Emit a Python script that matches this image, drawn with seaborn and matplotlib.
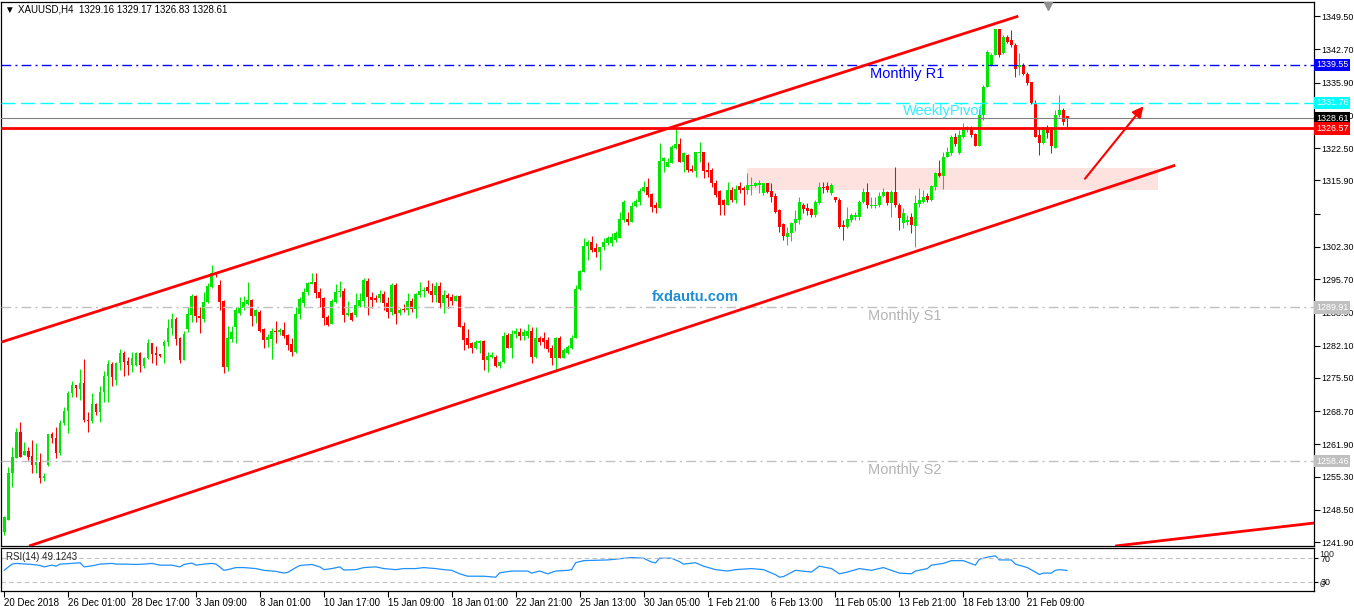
import numpy as np
import pandas as pd
import seaborn as sns
import matplotlib.pyplot as plt
import matplotlib.transforms as mtransforms
from matplotlib.patches import Rectangle

sns.set_theme(style="white")
plt.rcParams['font.family'] = ['Liberation Sans', 'DejaVu Sans']

# XAUUSD H4 candles
opens = [1244.0, 1246.4, 1256.0, 1259.1, 1264.4, 1259.7, 1260.5, 1259.5, 1257.7, 1258.3,
         1255.0, 1257.7, 1264.0, 1263.2, 1260.1, 1266.3, 1268.7, 1272.4, 1274.0, 1273.2,
         1274.4, 1266.9, 1266.7, 1270.2, 1268.5, 1272.6, 1275.9, 1278.3, 1275.1, 1278.5,
         1280.6, 1278.9, 1278.1, 1278.1, 1280.6, 1277.9, 1279.6, 1282.6, 1280.6, 1280.4,
         1282.0, 1282.8, 1285.7, 1287.5, 1283.6, 1279.2, 1285.5, 1288.4, 1292.2, 1288.2,
         1287.5, 1291.0, 1294.1, 1296.9, 1294.5, 1291.2, 1277.7, 1283.4, 1285.9, 1288.8,
         1289.8, 1290.6, 1291.4, 1288.2, 1289.0, 1285.5, 1283.2, 1283.4, 1285.1, 1284.9,
         1285.3, 1284.3, 1282.4, 1280.8, 1288.6, 1290.8, 1293.1, 1294.7, 1295.1, 1293.1,
         1291.8, 1288.0, 1286.5, 1291.0, 1293.1, 1293.3, 1288.4, 1288.8, 1288.4, 1290.2,
         1291.2, 1295.3, 1292.0, 1291.8, 1291.8, 1292.6, 1290.8, 1289.0, 1294.5, 1288.8,
         1289.6, 1289.4, 1291.2, 1289.6, 1292.4, 1293.3, 1294.1, 1293.3, 1292.4, 1294.3,
         1290.8, 1292.4, 1292.0, 1291.2, 1292.2, 1286.1, 1283.6, 1282.6, 1281.6, 1282.6,
         1283.0, 1279.2, 1279.8, 1279.8, 1277.9, 1278.7, 1284.3, 1281.6, 1284.5, 1284.9,
         1284.1, 1284.1, 1285.1, 1279.8, 1283.6, 1283.6, 1283.2, 1281.6, 1279.6, 1283.6,
         1279.6, 1280.6, 1281.6, 1283.6, 1293.7, 1297.1, 1302.4, 1303.3, 1302.0, 1301.2,
         1302.3, 1303.1, 1303.1, 1303.7, 1304.1, 1307.8, 1308.0, 1307.4, 1310.6, 1311.5,
         1313.7, 1314.5, 1313.1, 1310.8, 1310.2, 1319.8, 1318.6, 1319.4, 1322.5, 1323.3,
         1319.6, 1321.0, 1318.2, 1317.8, 1321.5, 1321.7, 1318.0, 1318.0, 1315.3, 1313.7,
         1311.9, 1310.8, 1313.9, 1311.9, 1314.7, 1314.3, 1313.9, 1314.7, 1314.7, 1314.9,
         1313.3, 1315.3, 1313.7, 1312.7, 1309.8, 1307.0, 1304.3, 1305.1, 1307.2, 1307.8,
         1310.8, 1310.2, 1310.0, 1308.8, 1311.3, 1314.5, 1314.7, 1313.3, 1312.5, 1311.9,
         1306.8, 1306.3, 1307.8, 1308.4, 1308.4, 1311.5, 1313.5, 1310.6, 1310.6, 1310.8,
         1312.7, 1313.5, 1311.3, 1313.5, 1310.8, 1307.2, 1307.4, 1308.4, 1306.6, 1311.1,
         1311.5, 1312.7, 1311.9, 1314.5, 1317.4, 1316.8, 1320.7, 1321.5, 1324.8, 1321.5,
         1324.8, 1326.2, 1326.6, 1325.4, 1323.0, 1329.3, 1335.0, 1339.5, 1341.5, 1346.8,
         1342.0, 1345.2, 1344.6, 1343.6, 1339.1, 1339.5, 1337.6, 1336.0, 1331.7, 1325.2,
         1323.5, 1326.6, 1326.6, 1322.5, 1329.3, 1330.3, 1329.16]
highs = [1247.3, 1257.3, 1261.4, 1265.2, 1266.5, 1262.4, 1261.4, 1262.8, 1262.2, 1260.1,
         1256.0, 1264.0, 1264.4, 1265.4, 1266.9, 1269.5, 1272.8, 1274.9, 1274.0, 1277.3,
         1279.4, 1268.5, 1272.4, 1270.4, 1273.8, 1276.9, 1279.2, 1278.7, 1278.7, 1281.4,
         1281.0, 1279.8, 1280.8, 1280.8, 1280.8, 1279.8, 1283.4, 1282.6, 1282.0, 1280.4,
         1283.2, 1287.5, 1288.8, 1287.9, 1283.8, 1285.1, 1290.0, 1292.6, 1292.4, 1290.0,
         1293.1, 1294.9, 1298.6, 1297.1, 1295.5, 1291.4, 1286.1, 1286.1, 1290.0, 1292.0,
         1292.2, 1295.1, 1291.6, 1289.6, 1289.4, 1285.7, 1284.5, 1285.7, 1287.1, 1285.7,
         1286.9, 1284.5, 1283.6, 1290.0, 1292.0, 1293.9, 1295.1, 1296.9, 1296.9, 1293.9,
         1292.0, 1288.4, 1291.6, 1294.7, 1295.3, 1293.9, 1291.2, 1289.0, 1292.9, 1292.9,
         1295.9, 1295.9, 1293.1, 1292.4, 1293.5, 1293.3, 1292.0, 1294.9, 1294.9, 1289.8,
         1290.6, 1292.9, 1291.8, 1292.9, 1295.1, 1294.1, 1295.5, 1294.9, 1295.1, 1295.1,
         1293.5, 1292.9, 1292.6, 1292.4, 1292.4, 1286.9, 1285.5, 1282.8, 1283.2, 1283.2,
         1283.2, 1280.8, 1280.8, 1280.2, 1278.9, 1284.9, 1284.7, 1285.3, 1285.7, 1285.7,
         1285.5, 1286.5, 1285.9, 1285.9, 1284.1, 1284.9, 1283.8, 1282.2, 1283.8, 1284.1,
         1281.6, 1282.2, 1284.3, 1294.5, 1297.6, 1304.1, 1303.7, 1304.5, 1303.1, 1302.3,
         1304.1, 1304.5, 1305.1, 1305.5, 1309.4, 1311.9, 1309.4, 1311.5, 1312.1, 1314.3,
         1315.8, 1316.4, 1313.3, 1311.5, 1323.5, 1320.7, 1320.5, 1323.1, 1326.4, 1324.6,
         1321.7, 1321.3, 1319.0, 1321.7, 1323.7, 1321.7, 1319.6, 1318.4, 1316.0, 1313.9,
         1312.1, 1315.5, 1314.5, 1314.9, 1315.5, 1314.7, 1317.4, 1316.6, 1315.5, 1316.0,
         1315.3, 1315.3, 1315.3, 1313.3, 1310.0, 1307.2, 1306.3, 1307.4, 1309.8, 1312.5,
         1311.3, 1311.3, 1310.2, 1311.9, 1315.5, 1315.5, 1315.5, 1315.3, 1312.5, 1312.3,
         1307.8, 1310.4, 1309.2, 1309.4, 1311.9, 1314.3, 1315.3, 1312.5, 1312.5, 1313.5,
         1314.3, 1313.7, 1313.9, 1318.6, 1311.3, 1310.2, 1308.8, 1309.2, 1312.9, 1314.3,
         1313.9, 1313.3, 1314.9, 1317.6, 1320.1, 1321.7, 1322.7, 1325.2, 1325.6, 1326.2,
         1327.6, 1327.0, 1327.0, 1325.6, 1330.5, 1335.4, 1342.5, 1342.0, 1346.8, 1346.8,
         1345.6, 1345.6, 1346.6, 1344.0, 1342.0, 1339.9, 1338.0, 1336.0, 1332.3, 1326.8,
         1326.8, 1327.2, 1326.8, 1330.3, 1333.3, 1330.7, 1329.17]
lows = [1243.4, 1246.4, 1253.2, 1259.1, 1259.3, 1259.7, 1258.7, 1256.0, 1256.0, 1254.0,
        1254.4, 1257.5, 1262.2, 1259.1, 1259.7, 1265.9, 1264.2, 1271.6, 1271.6, 1271.0,
        1266.5, 1264.4, 1266.3, 1267.9, 1266.5, 1270.6, 1270.6, 1273.8, 1274.0, 1277.1,
        1275.9, 1276.1, 1276.7, 1278.0, 1276.7, 1277.5, 1279.4, 1278.5, 1278.1, 1279.8,
        1278.5, 1282.0, 1284.3, 1282.2, 1278.5, 1279.2, 1284.9, 1286.9, 1286.9, 1284.7,
        1286.9, 1290.8, 1293.9, 1296.1, 1289.4, 1276.5, 1276.9, 1282.8, 1282.6, 1288.4,
        1289.4, 1290.4, 1286.1, 1286.7, 1284.9, 1281.6, 1281.8, 1279.4, 1282.6, 1284.3,
        1283.6, 1281.2, 1280.0, 1280.6, 1287.5, 1290.0, 1292.4, 1294.7, 1291.8, 1290.0,
        1286.3, 1286.1, 1286.5, 1290.8, 1292.0, 1286.9, 1288.2, 1287.1, 1288.0, 1290.0,
        1290.0, 1288.4, 1289.8, 1291.0, 1291.0, 1289.4, 1287.8, 1288.4, 1286.5, 1288.4,
        1289.0, 1288.4, 1289.0, 1287.8, 1292.0, 1292.0, 1292.9, 1291.0, 1291.0, 1289.8,
        1288.8, 1289.8, 1290.4, 1291.2, 1285.9, 1281.2, 1281.6, 1280.6, 1281.4, 1280.6,
        1277.1, 1276.7, 1279.6, 1277.7, 1277.5, 1278.5, 1281.6, 1279.6, 1283.6, 1283.2,
        1283.2, 1283.6, 1278.5, 1279.6, 1282.2, 1281.6, 1280.8, 1278.1, 1277.1, 1279.6,
        1279.6, 1280.4, 1281.4, 1283.6, 1293.5, 1297.1, 1299.6, 1301.2, 1300.2, 1297.6,
        1301.6, 1302.7, 1302.5, 1303.3, 1304.1, 1307.4, 1306.8, 1307.4, 1310.4, 1310.8,
        1313.5, 1312.5, 1309.4, 1309.2, 1310.2, 1317.6, 1318.6, 1319.4, 1322.3, 1319.6,
        1317.6, 1317.6, 1317.6, 1316.6, 1319.6, 1316.4, 1316.6, 1314.5, 1312.5, 1308.8,
        1308.8, 1310.8, 1311.5, 1311.3, 1313.3, 1310.8, 1313.1, 1312.9, 1314.5, 1313.3,
        1312.9, 1313.3, 1311.5, 1309.2, 1305.3, 1303.7, 1302.7, 1303.5, 1305.5, 1307.0,
        1309.2, 1308.8, 1308.4, 1308.4, 1311.1, 1313.3, 1313.5, 1312.9, 1311.5, 1306.1,
        1303.7, 1306.1, 1307.4, 1307.8, 1307.8, 1311.3, 1310.2, 1310.2, 1310.2, 1310.4,
        1312.5, 1310.8, 1308.4, 1310.4, 1305.7, 1306.1, 1306.8, 1305.1, 1302.3, 1310.4,
        1311.3, 1311.5, 1311.7, 1313.9, 1316.6, 1314.1, 1320.7, 1321.1, 1322.9, 1321.3,
        1324.6, 1325.8, 1324.8, 1323.0, 1323.0, 1328.2, 1335.0, 1339.3, 1341.5, 1341.1,
        1341.7, 1344.0, 1343.2, 1337.0, 1337.4, 1337.4, 1335.4, 1331.5, 1324.8, 1321.1,
        1323.3, 1324.6, 1321.5, 1322.5, 1328.9, 1327.2, 1326.83]
closes = [1247.0, 1256.0, 1259.3, 1264.4, 1259.3, 1260.5, 1259.3, 1257.7, 1258.3, 1255.0,
          1255.4, 1264.0, 1263.2, 1260.1, 1266.3, 1268.7, 1272.4, 1274.0, 1273.4, 1274.4,
          1266.9, 1266.7, 1270.2, 1268.5, 1272.6, 1275.9, 1278.3, 1275.7, 1278.5, 1280.6,
          1278.7, 1278.1, 1279.6, 1280.6, 1278.1, 1279.6, 1282.6, 1280.4, 1280.2, 1280.0,
          1282.8, 1285.7, 1287.5, 1283.4, 1279.2, 1284.5, 1288.6, 1292.2, 1288.2, 1287.8,
          1291.0, 1294.3, 1296.9, 1296.5, 1291.0, 1277.7, 1283.6, 1284.9, 1289.4, 1289.8,
          1291.0, 1291.4, 1288.2, 1289.4, 1285.1, 1283.2, 1283.8, 1285.1, 1284.9, 1285.3,
          1284.1, 1282.2, 1280.8, 1288.6, 1291.6, 1293.1, 1294.9, 1295.1, 1292.9, 1291.8,
          1287.8, 1286.3, 1291.2, 1293.1, 1293.3, 1288.4, 1288.8, 1287.3, 1290.4, 1291.4,
          1295.5, 1292.0, 1291.4, 1291.4, 1292.6, 1290.8, 1289.0, 1294.5, 1288.6, 1289.4,
          1289.4, 1291.2, 1289.6, 1292.6, 1293.3, 1293.5, 1293.3, 1292.4, 1294.3, 1290.8,
          1292.4, 1291.8, 1291.2, 1292.2, 1285.9, 1283.2, 1282.2, 1281.6, 1282.8, 1283.0,
          1279.2, 1280.0, 1280.2, 1277.9, 1278.7, 1284.1, 1281.6, 1284.5, 1285.1, 1284.1,
          1284.9, 1285.1, 1279.8, 1283.6, 1282.8, 1282.8, 1281.4, 1279.6, 1283.6, 1279.6,
          1281.2, 1281.8, 1283.6, 1293.7, 1297.3, 1302.4, 1303.3, 1301.6, 1301.2, 1302.3,
          1303.3, 1304.1, 1304.3, 1305.1, 1308.0, 1311.5, 1307.4, 1310.6, 1311.7, 1313.7,
          1314.5, 1312.9, 1310.4, 1310.2, 1319.8, 1320.5, 1319.6, 1322.7, 1323.3, 1319.6,
          1321.5, 1318.0, 1317.8, 1321.7, 1321.7, 1317.8, 1317.6, 1315.3, 1312.9, 1310.8,
          1310.8, 1313.9, 1311.9, 1314.1, 1313.9, 1313.9, 1314.9, 1314.9, 1315.3, 1315.3,
          1315.3, 1313.5, 1312.5, 1309.4, 1306.3, 1304.5, 1305.1, 1307.2, 1308.0, 1311.5,
          1310.0, 1309.6, 1308.8, 1311.5, 1314.5, 1314.3, 1313.9, 1314.9, 1311.9, 1306.3,
          1306.3, 1308.0, 1308.8, 1308.8, 1311.5, 1313.5, 1310.8, 1310.8, 1310.8, 1312.7,
          1313.5, 1311.3, 1313.5, 1310.8, 1308.2, 1309.2, 1307.8, 1306.8, 1311.3, 1311.9,
          1312.5, 1311.9, 1314.7, 1317.4, 1316.8, 1320.7, 1321.7, 1324.8, 1323.3, 1325.2,
          1326.6, 1326.8, 1325.2, 1323.0, 1329.3, 1335.0, 1342.1, 1341.5, 1346.8, 1341.5,
          1345.2, 1344.2, 1343.6, 1338.7, 1339.5, 1337.6, 1335.8, 1331.7, 1324.8, 1323.5,
          1326.6, 1325.6, 1323.0, 1329.3, 1330.3, 1327.8, 1328.61]

# RSI(14) sampled along the sub window (bar index, value)
rsi_bars = [0, 2, 3, 7, 9, 10, 12, 13, 14, 17, 19, 20, 22, 24, 27, 28, 30, 33, 35, 37,
            39, 42, 44, 45, 47, 48, 50, 52, 53, 54, 55, 56, 58, 60, 63, 65, 68, 70, 71, 73,
            74, 77, 79, 80, 82, 84, 85, 88, 90, 93, 95, 98, 100, 103, 105, 108, 110, 112, 114, 116,
            120, 123, 124, 127, 131, 132, 134, 136, 138, 141, 142, 143, 145, 151, 157, 160, 162, 163, 164, 167,
            169, 170, 173, 175, 178, 181, 183, 187, 190, 193, 194, 195, 198, 202, 204, 207, 209, 211, 214, 217,
            220, 222, 224, 227, 228, 231, 232, 235, 237, 240, 243, 244, 246, 248, 249, 252, 253, 256, 258, 259,
            260, 262, 263, 264, 266]
rsi_vals = [49.4, 60.0, 61.2, 59.4, 57.7, 55.3, 58.2, 56.5, 60.0, 61.2, 62.4, 55.3, 57.1, 60.0, 61.2, 60.0, 60.0, 59.4, 60.0, 61.2,
            58.2, 58.2, 55.3, 59.4, 61.8, 58.2, 60.0, 61.2, 60.0, 55.0, 49.4, 50.6, 54.1, 54.1, 52.4, 49.4, 47.7, 44.7, 46.0, 54.1,
            57.7, 59.4, 55.3, 50.6, 52.4, 55.3, 50.0, 50.6, 54.1, 55.3, 52.4, 50.6, 52.4, 52.4, 54.1, 52.4, 50.6, 49.4, 43.5, 39.4,
            39.4, 37.7, 45.3, 48.2, 48.2, 44.7, 48.2, 43.5, 48.2, 49.4, 50.6, 62.4, 65.9, 67.1, 71.2, 70.0, 63.5, 62.0, 70.0, 70.0,
            64.1, 60.0, 62.4, 56.5, 50.6, 48.2, 50.6, 52.4, 50.6, 42.0, 37.7, 38.8, 49.4, 46.5, 56.5, 52.4, 43.5, 46.5, 52.4, 49.4,
            54.1, 49.4, 44.7, 43.5, 48.2, 52.4, 58.2, 61.2, 65.9, 65.9, 58.2, 68.2, 71.8, 74.1, 67.1, 67.1, 60.0, 54.1, 46.5, 42.4,
            44.7, 44.7, 49.4, 50.6, 49.1]

# horizontal levels: price, line colour, label box colour
level_prices = [1339.55, 1331.76, 1328.61, 1326.57, 1289.91, 1258.46]
level_colors = ['#0000FF', '#00FFFF', '#808080', '#FF0000', '#C0C0C0', '#C0C0C0']
label_colors = ['#0000FF', '#00FFFF', '#000000', '#FF0000', '#C0C0C0', '#C0C0C0']

price_ticks = [1349.50, 1342.70, 1335.90, 1329.10, 1322.50, 1315.90, 1309.10, 1302.30, 1295.70,
               1288.90, 1282.10, 1275.50, 1268.70, 1261.90, 1255.30, 1248.50, 1241.90]
time_labels = ['20 Dec 2018', '26 Dec 01:00', '28 Dec 17:00', '3 Jan 09:00', '8 Jan 01:00',
               '10 Jan 17:00', '15 Jan 09:00', '18 Jan 01:00', '22 Jan 21:00', '25 Jan 13:00',
               '30 Jan 05:00', '1 Feb 21:00', '6 Feb 13:00', '11 Feb 05:00', '13 Feb 21:00',
               '18 Feb 13:00', '21 Feb 09:00']

# trend lines: ((bar, price), (bar, price))
chan_upper = ((-0.75, 1282.8), (253.75, 1349.5))
chan_lower = ((6.25, 1241.1), (293.0, 1319.0))
ray_bottom = ((278.0, 1241.1), (327.75, 1245.8))
arrow_from = (270.0, 1315.8)
arrow_to = (285.5, 1331.5)
zone_bars = (185.75, 288.75)
zone_prices = (1313.9, 1318.4)

df = pd.DataFrame({'open': opens, 'high': highs, 'low': lows, 'close': closes})
df['bar'] = np.arange(len(df))
df['bull'] = df['close'] >= df['open']
colors = np.where(df['bull'], '#00E600', '#FF0000')

fig = plt.figure(figsize=(13.54, 6.06), dpi=100)
fig.patch.set_facecolor('white')
ax = fig.add_axes([0.0008, 0.0990, 0.9697, 0.8977])
ax2 = fig.add_axes([0.0008, 0.0248, 0.9697, 0.0709])

xlim = (-0.75, 327.75)

# zone rectangle behind candles
ax.add_patch(Rectangle((zone_bars[0], zone_prices[0]), zone_bars[1] - zone_bars[0],
                       zone_prices[1] - zone_prices[0], fc='#FDE2E0', ec='none', zorder=1))

# candles
ax.vlines(df['bar'], df['low'], df['high'], colors=colors, lw=0.75, zorder=3)
body_lo = np.minimum(df['open'], df['close'])
body_h = np.maximum(np.abs(df['close'] - df['open']), 0.25)
ax.bar(df['bar'], body_h, bottom=body_lo, width=0.72, color=colors, lw=0, zorder=3)

# levels
styles = [(0, (7, 3, 1.5, 3)), (0, (10, 4)), '-', '-', (0, (7, 3, 1.5, 3)), (0, (7, 3, 1.5, 3))]
widths = [1.0, 1.0, 0.8, 2.0, 1.0, 1.0]
for p, c, ls, w in zip(level_prices, level_colors, styles, widths):
    ax.axhline(p, color=c, ls=ls, lw=w, zorder=4)

# trend lines
for (x0, y0), (x1, y1) in (chan_upper, chan_lower, ray_bottom):
    ax.plot([x0, x1], [y0, y1], color='#FF0000', lw=2.0, zorder=5, solid_capstyle='butt')
ax.annotate('', xy=arrow_to, xytext=arrow_from,
            arrowprops=dict(arrowstyle='-|>', color='#FF0000', lw=1.5, mutation_scale=16), zorder=5)

# level names
ax.text(216.75, 1337.6, 'Monthly R1', color='#0000FF', fontsize=10.5, va='center', zorder=6)
ax.text(225.0, 1330.1, 'WeeklyPivot', color='#33EEFF', fontsize=10.5, va='center', zorder=6)
ax.text(216.25, 1288.1, 'Monthly S1', color='#B4B4B4', fontsize=10.5, va='center', zorder=6)
ax.text(216.25, 1256.6, 'Monthly S2', color='#B4B4B4', fontsize=10.5, va='center', zorder=6)
ax.text(162.0, 1292.0, 'fxdautu.com', color='#1F8DD6', fontsize=10.5, fontweight='bold',
        va='center', zorder=6)

ax.set_xlim(*xlim)
ax.set_ylim(1241.1, 1352.4)
ax.set_xticks([])
ax.yaxis.tick_right()
ax.set_yticks(price_ticks)
ax.set_yticklabels(['' if p == 1309.10 else f'{p:.2f}' for p in price_ticks])
ax.tick_params(axis='y', direction='out', length=4, width=0.8, labelsize=6.4, pad=1.5,
               colors='black', right=True, left=False)
for s in ax.spines.values():
    s.set_color('black')
    s.set_linewidth(0.9)

# price labels on the axis
trans = mtransforms.blended_transform_factory(ax.transAxes, ax.transData)
for p, c in zip(level_prices, label_colors):
    ax.text(1.0015, p, f'{p:.2f}', transform=trans, color='white', fontsize=6.4,
            ha='left', va='center', clip_on=False, zorder=7,
            bbox=dict(boxstyle='square,pad=0.2', fc=c, ec='none'))

# chart shift marker
ax.plot([261.25], [0.993], marker='v', color='#909090', ms=6,
        transform=mtransforms.blended_transform_factory(ax.transData, ax.transAxes),
        clip_on=False, zorder=7)

# header
fig.text(0.003, 1 - 10 / 606, '\u25bc', fontsize=7, va='center', color='black')
fig.text(18 / 1354, 1 - 10 / 606, 'XAUUSD,H4  1329.16 1329.17 1326.83 1328.61',
         fontsize=7, va='center', color='black')

# RSI window
sns.lineplot(x=rsi_bars, y=rsi_vals, ax=ax2, color='#1E90FF', lw=0.9)
ax2.axhline(70, color='#C0C0C0', ls=(0, (4, 3)), lw=0.8)
ax2.axhline(30, color='#C0C0C0', ls=(0, (4, 3)), lw=0.8)
ax2.set_xlim(*xlim)
ax2.set_ylim(14.3, 87.4)
ax2.yaxis.tick_right()
ax2.set_yticks([70, 30])
ax2.set_yticklabels(['70', '30'])
ax2.text(1.004, 0.86, '100', transform=ax2.transAxes, fontsize=6.4, va='center', clip_on=False)
ax2.text(1.004, 0.14, '0', transform=ax2.transAxes, fontsize=6.4, va='center', clip_on=False)
ax2.text(0.004, 0.8, 'RSI(14) 49.1243', transform=ax2.transAxes, fontsize=7, va='center')
ax2.set_xticks(np.arange(len(time_labels)) * 16)
ax2.set_xticklabels(time_labels)
for lbl in ax2.get_xticklabels():
    lbl.set_ha('left')
ax2.tick_params(axis='x', direction='out', length=4, width=0.8, labelsize=7, pad=1,
                colors='black', bottom=True)
ax2.tick_params(axis='y', direction='out', length=3, width=0.8, labelsize=6.4, pad=1.5,
                colors='black', right=True, left=False)
ax2.set_xlabel('')
ax2.set_ylabel('')
for s in ax2.spines.values():
    s.set_color('black')
    s.set_linewidth(0.9)

fig.savefig('out.png', dpi=100)
